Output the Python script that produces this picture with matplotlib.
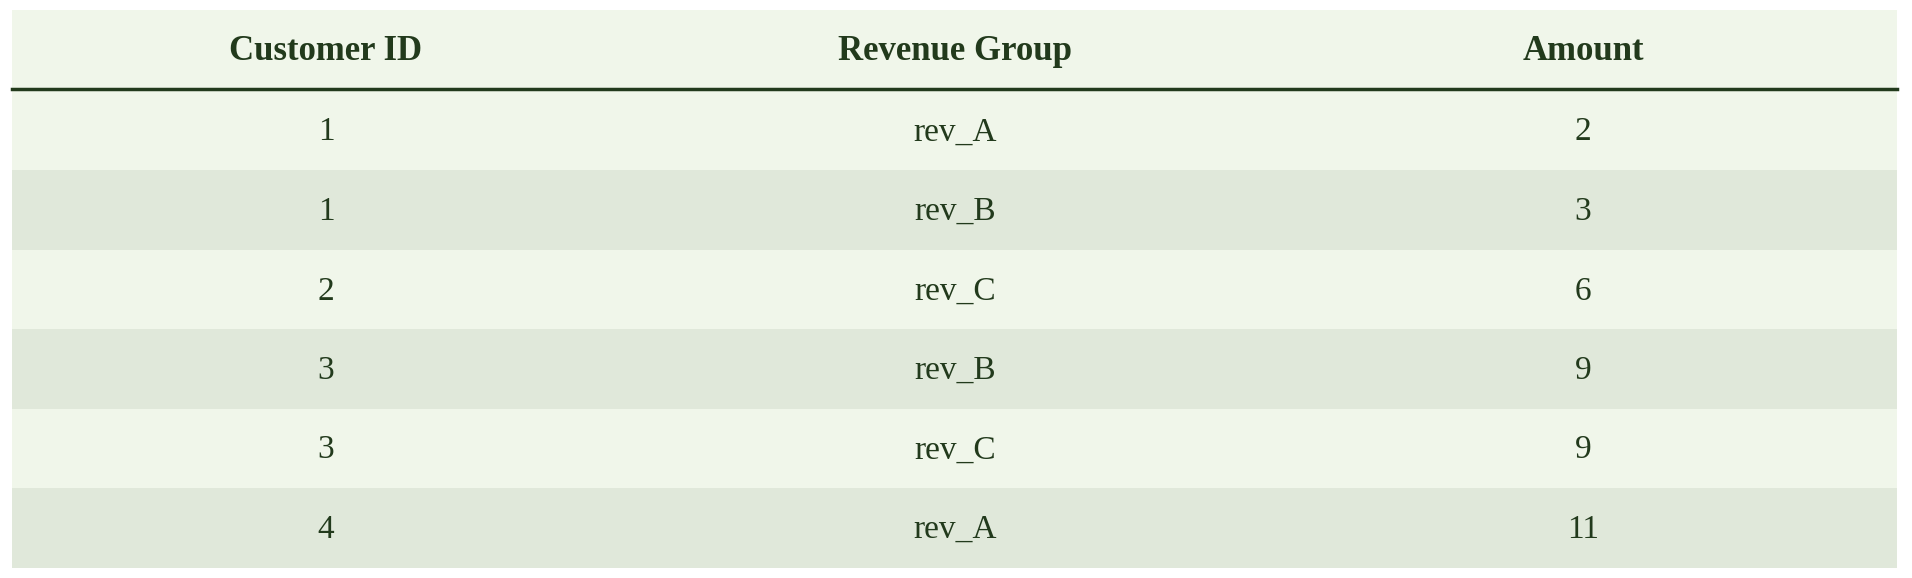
import matplotlib.pyplot as plt
from matplotlib.patches import Rectangle

headers = ["Customer ID", "Revenue Group", "Amount"]
customer_id = ["1", "1", "2", "3", "3", "4"]
revenue_group = ["rev_A", "rev_B", "rev_C", "rev_B", "rev_C", "rev_A"]
amount = ["2", "3", "6", "9", "9", "11"]

W, H = 1912, 578
fig = plt.figure(figsize=(W / 100, H / 100), dpi=100)
ax = fig.add_axes([0, 0, 1, 1])
ax.set_xlim(0, W)
ax.set_ylim(H, 0)
ax.axis("off")

left, right = 12, 1897
top, head_bot = 10, 89
row_h = 79.5
col_x = [326, 955, 1583]
txt = "#223a1c"
light, dark = "#f0f6ea", "#e0e8da"

ax.add_patch(Rectangle((left, top), right - left, head_bot - top, color=light, lw=0))
for i, h in enumerate(headers):
    ax.text(col_x[i], (top + head_bot) / 2 + 2, h, ha="center", va="center",
            fontsize=25, fontweight="bold", family="Liberation Serif", color=txt)
ax.plot([left, right], [head_bot, head_bot], color="#223a1c", lw=2.5)

columns = [customer_id, revenue_group, amount]
for r in range(len(customer_id)):
    y0 = head_bot + 1.5 + r * row_h
    ax.add_patch(Rectangle((left, y0), right - left, row_h,
                           color=light if r % 2 == 0 else dark, lw=0))
    for c, col in enumerate(columns):
        ax.text(col_x[c], y0 + row_h / 2 + 2, col[r], ha="center", va="center",
                fontsize=24, family="Liberation Serif", color=txt)

fig.savefig("out.png", dpi=100)
